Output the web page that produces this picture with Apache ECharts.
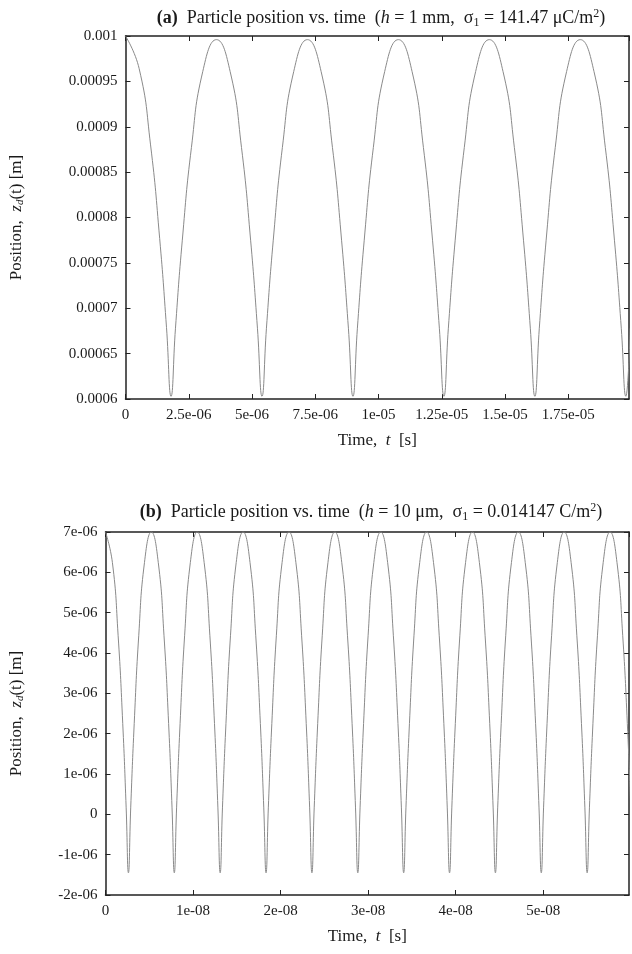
<!DOCTYPE html>
<html>
<head>
<meta charset="utf-8">
<script src="https://cdn.jsdelivr.net/npm/echarts@6/dist/echarts.min.js"></script>
<style>
html,body{margin:0;padding:0;background:#fff;}
#chart{width:632px;height:954px;}
</style>
</head>
<body>
<div id="chart"></div>
<script>
// ---- Panel (a): time in microseconds, position in micrometres ----
const timeA_us = [
  0, 0.54, 0.99, 1.35, 1.62, 1.80,
  1.975, 2.245, 2.605, 3.055, 3.595, 4.135, 4.585, 4.945, 5.215, 5.395,
  5.57, 5.84, 6.20, 6.65, 7.19, 7.73, 8.18, 8.54, 8.81, 8.99,
  9.165, 9.435, 9.795, 10.245, 10.785, 11.325, 11.775, 12.135, 12.405, 12.585,
  12.76, 13.03, 13.39, 13.84, 14.38, 14.92, 15.37, 15.73, 16.00, 16.18,
  16.355, 16.625, 16.985, 17.435, 17.975, 18.515, 18.965, 19.325, 19.595, 19.775,
  19.95
];
const posA_um = [
  1000, 964, 880, 777, 679, 603,
  678, 775, 877, 961, 996, 961, 877, 775, 678, 603,
  678, 775, 877, 961, 996, 961, 877, 775, 678, 603,
  678, 775, 877, 961, 996, 961, 877, 775, 678, 603,
  678, 775, 877, 961, 996, 961, 877, 775, 678, 603,
  678, 775, 877, 961, 996, 961, 877, 775, 678, 603,
  678
];
const xTickLabelsA = ['0','2.5e-06','5e-06','7.5e-06','1e-05','1.25e-05','1.5e-05','1.75e-05'];
const yTickLabelsA = ['0.0006','0.00065','0.0007','0.00075','0.0008','0.00085','0.0009','0.00095','0.001'];

// ---- Panel (b): time in nanoseconds, position in micrometres ----
const timeB_ns = [
  0, 0.79, 1.44, 1.97, 2.36, 2.62,
  2.88, 3.28, 3.80, 4.45, 5.24, 6.03, 6.68, 7.21, 7.60, 7.86,
  8.12, 8.52, 9.04, 9.69, 10.48, 11.27, 11.92, 12.45, 12.84, 13.10,
  13.36, 13.76, 14.28, 14.93, 15.72, 16.51, 17.16, 17.69, 18.08, 18.34,
  18.60, 19.00, 19.52, 20.17, 20.96, 21.75, 22.40, 22.93, 23.32, 23.58,
  23.84, 24.24, 24.76, 25.41, 26.20, 26.99, 27.64, 28.17, 28.56, 28.82,
  29.08, 29.48, 30.00, 30.65, 31.44, 32.23, 32.88, 33.41, 33.80, 34.06,
  34.32, 34.72, 35.24, 35.89, 36.68, 37.47, 38.12, 38.65, 39.04, 39.30,
  39.56, 39.96, 40.48, 41.13, 41.92, 42.71, 43.36, 43.89, 44.28, 44.54,
  44.80, 45.20, 45.72, 46.37, 47.16, 47.95, 48.60, 49.13, 49.52, 49.78,
  50.04, 50.44, 50.96, 51.61, 52.40, 53.19, 53.84, 54.37, 54.76, 55.02,
  55.28, 55.68, 56.20, 56.85, 57.64, 58.43, 59.08, 59.61, 60.00
];
const posB_um = [
  7.0, 6.24, 4.44, 2.25, 0.16, -1.45,
  0.16, 2.25, 4.44, 6.24, 7.0, 6.24, 4.44, 2.25, 0.16, -1.45,
  0.16, 2.25, 4.44, 6.24, 7.0, 6.24, 4.44, 2.25, 0.16, -1.45,
  0.16, 2.25, 4.44, 6.24, 7.0, 6.24, 4.44, 2.25, 0.16, -1.45,
  0.16, 2.25, 4.44, 6.24, 7.0, 6.24, 4.44, 2.25, 0.16, -1.45,
  0.16, 2.25, 4.44, 6.24, 7.0, 6.24, 4.44, 2.25, 0.16, -1.45,
  0.16, 2.25, 4.44, 6.24, 7.0, 6.24, 4.44, 2.25, 0.16, -1.45,
  0.16, 2.25, 4.44, 6.24, 7.0, 6.24, 4.44, 2.25, 0.16, -1.45,
  0.16, 2.25, 4.44, 6.24, 7.0, 6.24, 4.44, 2.25, 0.16, -1.45,
  0.16, 2.25, 4.44, 6.24, 7.0, 6.24, 4.44, 2.25, 0.16, -1.45,
  0.16, 2.25, 4.44, 6.24, 7.0, 6.24, 4.44, 2.25, 0.16, -1.45,
  0.16, 2.25, 4.44, 6.24, 7.0, 6.24, 4.44, 2.25, 0.16
];
const xTickLabelsB = ['0','1e-08','2e-08','3e-08','4e-08','5e-08'];
const yTickLabelsB = ['-2e-06','-1e-06','0','1e-06','2e-06','3e-06','4e-06','5e-06','6e-06','7e-06'];

const FONT = 'Liberation Serif';
const TXT = '#1a1a1a';
const BORDER = {show: true, onZero: false, lineStyle: {color: '#222', width: 1.5}};
const TICK = {show: true, inside: true, length: 5, lineStyle: {color: '#222', width: 1}};
const LBL = {fontFamily: FONT, fontSize: 15, color: TXT};
const NAMESIZE = 17;
const TITLESIZE = 18;

function labelFrom(arr, min, step) {
  return function (v) {
    const i = Math.round((v - min) / step);
    if (Math.abs(v - (min + i * step)) > step * 1e-6) return '';
    return arr[i] !== undefined ? arr[i] : '';
  };
}

const richName = {
  n: {fontFamily: FONT, fontSize: NAMESIZE, color: TXT},
  i: {fontFamily: FONT, fontSize: NAMESIZE, fontStyle: 'italic', color: TXT},
  sub: {fontFamily: FONT, fontSize: 11, fontStyle: 'italic', color: TXT, verticalAlign: 'bottom', padding: [7, 0, 0, 0]}
};
const richTitle = {
  b: {fontFamily: FONT, fontSize: TITLESIZE, fontWeight: 'bold', color: TXT},
  i: {fontFamily: FONT, fontSize: TITLESIZE, fontStyle: 'italic', color: TXT},
  sub: {fontFamily: FONT, fontSize: 12, color: TXT, verticalAlign: 'bottom', padding: [9, 0, 0, 0]},
  sup: {fontFamily: FONT, fontSize: 12, color: TXT, verticalAlign: 'top', padding: [0, 0, 9, 0]}
};

function xAxes(gridIndex, max, step, labels) {
  return [
    {type: 'value', gridIndex, position: 'bottom', min: 0, max, interval: step,
     axisLine: BORDER, axisTick: TICK, splitLine: {show: false},
     axisLabel: Object.assign({margin: 9, showMaxLabel: false, formatter: labelFrom(labels, 0, step)}, LBL),
     name: '{n|Time,  }{i|t}{n|  [s]}', nameLocation: 'middle', nameGap: 33,
     nameTextStyle: {fontFamily: FONT, fontSize: NAMESIZE, color: TXT, rich: richName}},
    {type: 'value', gridIndex, position: 'top', min: 0, max, interval: step,
     axisLine: BORDER, axisTick: TICK, axisLabel: {show: false}, splitLine: {show: false}}
  ];
}
function yAxes(gridIndex, min, max, step, labels, gap) {
  return [
    {type: 'value', gridIndex, position: 'left', min, max, interval: step,
     axisLine: BORDER, axisTick: TICK, splitLine: {show: false},
     axisLabel: Object.assign({margin: 8, formatter: labelFrom(labels, min, step)}, LBL),
     name: '{n|Position,  }{i|z}{sub|d}{n|(t) [m]}', nameLocation: 'middle', nameGap: gap, nameRotate: 90,
     nameTextStyle: {fontFamily: FONT, fontSize: NAMESIZE, color: TXT, rich: richName}},
    {type: 'value', gridIndex, position: 'right', min, max, interval: step,
     axisLine: BORDER, axisTick: TICK, axisLabel: {show: false}, splitLine: {show: false}}
  ];
}

const chart = echarts.init(document.getElementById('chart'), null, {renderer: 'canvas'});
chart.setOption({
  animation: false,
  backgroundColor: '#fff',
  title: [
    {text: '{b|(a)}  Particle position vs. time  ({i|h} = 1 mm,  σ{sub|1} = 141.47 μC/m{sup|2})',
     left: 376, top: 3, textAlign: 'center',
     textStyle: {fontFamily: FONT, fontSize: TITLESIZE, fontWeight: 'normal', color: TXT, rich: richTitle}},
    {text: '{b|(b)}  Particle position vs. time  ({i|h} = 10 μm,  σ{sub|1} = 0.014147 C/m{sup|2})',
     left: 366, top: 497, textAlign: 'center',
     textStyle: {fontFamily: FONT, fontSize: TITLESIZE, fontWeight: 'normal', color: TXT, rich: richTitle}}
  ],
  grid: [
    {left: 124, top: 36, width: 505, height: 363},
    {left: 104, top: 532, width: 525, height: 363}
  ],
  xAxis: [].concat(xAxes(0, 19.9, 2.5, xTickLabelsA), xAxes(1, 59.8, 10, xTickLabelsB)),
  yAxis: [].concat(yAxes(0, 600, 1000, 50, yTickLabelsA, 100), yAxes(1, -2, 7, 1, yTickLabelsB, 80)),
  series: [
    {type: 'line', xAxisIndex: 0, yAxisIndex: 0, showSymbol: false, smooth: true, clip: true,
     lineStyle: {color: '#8a8a8a', width: 1},
     data: timeA_us.map((t, i) => [t, posA_um[i]])},
    {type: 'line', xAxisIndex: 2, yAxisIndex: 2, showSymbol: false, smooth: true, clip: true,
     lineStyle: {color: '#8a8a8a', width: 1},
     data: timeB_ns.map((t, i) => [t, posB_um[i]])}
  ]
});
</script>
</body>
</html>
